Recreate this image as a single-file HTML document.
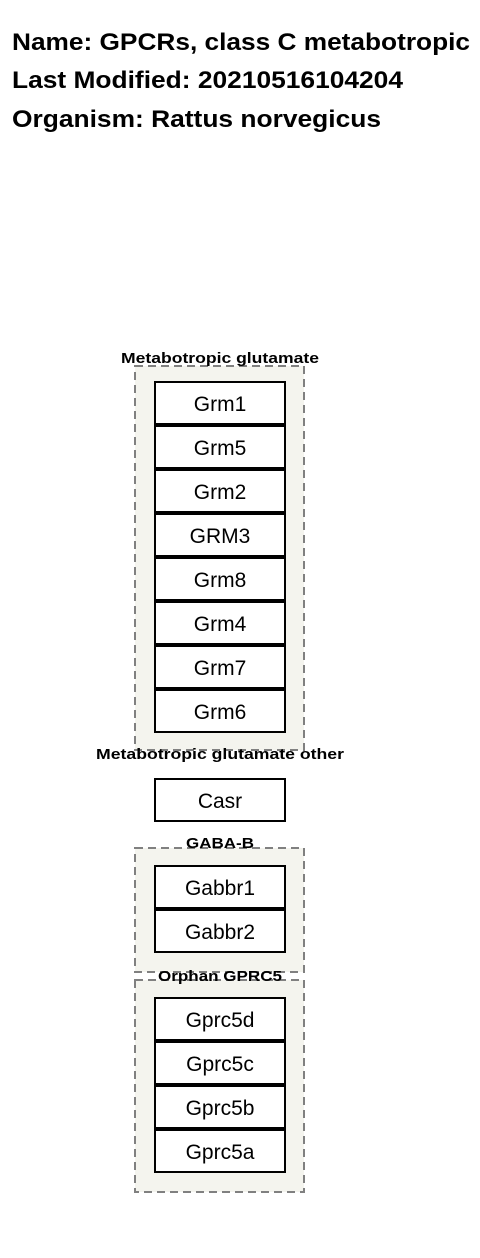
<!DOCTYPE html>
<html><head><meta charset="utf-8"><style>
html,body{margin:0;padding:0;background:#fff;width:480px;height:1258px;overflow:hidden}
svg{display:block}
text{font-family:"Liberation Sans",Arial,sans-serif}
</style></head><body>
<svg width="480" height="1258" xmlns="http://www.w3.org/2000/svg">
<g font-weight="bold" font-size="24" fill="#000">
<text x="12" y="50" textLength="458" lengthAdjust="spacingAndGlyphs">Name: GPCRs, class C metabotropic</text>
<text x="12" y="88" textLength="391" lengthAdjust="spacingAndGlyphs">Last Modified: 20210516104204</text>
<text x="12" y="127" textLength="369" lengthAdjust="spacingAndGlyphs">Organism: Rattus norvegicus</text>
</g>
<g fill="#f4f4ee" stroke="#808080" stroke-width="2" stroke-dasharray="8,5">
<rect x="135" y="366" width="169" height="384"/>
<rect x="135" y="848" width="169" height="124"/>
<rect x="135" y="980" width="169" height="212"/>
</g>
<g font-weight="bold" font-size="15" text-anchor="middle" fill="#000">
<text x="220" y="363" textLength="198" lengthAdjust="spacingAndGlyphs">Metabotropic glutamate</text>
<text x="220" y="759" textLength="248" lengthAdjust="spacingAndGlyphs">Metabotropic glutamate other</text>
<text x="220" y="848" textLength="68" lengthAdjust="spacingAndGlyphs">GABA-B</text>
<text x="220" y="981" textLength="124" lengthAdjust="spacingAndGlyphs">Orphan GPRC5</text>
</g>
<g fill="#fff" stroke="#000" stroke-width="2">
<rect x="155" y="382" width="130" height="42"/>
<rect x="155" y="426" width="130" height="42"/>
<rect x="155" y="470" width="130" height="42"/>
<rect x="155" y="514" width="130" height="42"/>
<rect x="155" y="558" width="130" height="42"/>
<rect x="155" y="602" width="130" height="42"/>
<rect x="155" y="646" width="130" height="42"/>
<rect x="155" y="690" width="130" height="42"/>
<rect x="155" y="779" width="130" height="42"/>
<rect x="155" y="866" width="130" height="42"/>
<rect x="155" y="910" width="130" height="42"/>
<rect x="155" y="998" width="130" height="42"/>
<rect x="155" y="1042" width="130" height="42"/>
<rect x="155" y="1086" width="130" height="42"/>
<rect x="155" y="1130" width="130" height="42"/>
</g>
<g font-size="21" text-anchor="middle" fill="#000">
<text x="220" y="411">Grm1</text>
<text x="220" y="455">Grm5</text>
<text x="220" y="499">Grm2</text>
<text x="220" y="543">GRM3</text>
<text x="220" y="587">Grm8</text>
<text x="220" y="631">Grm4</text>
<text x="220" y="675">Grm7</text>
<text x="220" y="719">Grm6</text>
<text x="220" y="808">Casr</text>
<text x="220" y="895">Gabbr1</text>
<text x="220" y="939">Gabbr2</text>
<text x="220" y="1027">Gprc5d</text>
<text x="220" y="1071">Gprc5c</text>
<text x="220" y="1115">Gprc5b</text>
<text x="220" y="1159">Gprc5a</text>
</g>
</svg>
</body></html>
